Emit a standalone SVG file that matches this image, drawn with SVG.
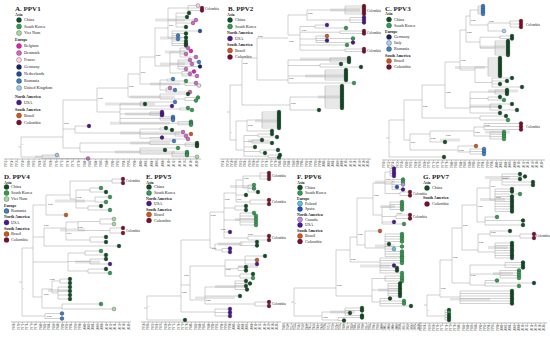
<svg xmlns="http://www.w3.org/2000/svg" width="550" height="337" viewBox="0 0 550 337">
<style>
text{font-family:"Liberation Serif","Times New Roman",serif;fill:#222}
.ti{font-size:7px;font-weight:bold}
.hd{font-size:4px;font-weight:bold}
.it{font-size:4.2px}
.lb{font-size:2.6px;fill:#333}
.tl{font-size:3.5px}
.ax{font-size:3.3px;fill:#444}
.br{fill:none;stroke:#a3a3a3;stroke-width:.5}
.hp{fill:#d9d9d9;opacity:.7}
.axl{stroke:#777;stroke-width:.5}
.tk{stroke:#777;stroke-width:1.6}
circle{stroke:#1e1e1e;stroke-width:.3}
.ch{fill:#0e4d24}.sk{fill:#2e9d4e}.vn{fill:#a6dba0}.be{fill:#e41fb2}.dk{fill:#d465c8}.fr{fill:#f9d3ef}.ge{fill:#152360}.nl{fill:#1f4d9e}.ro{fill:#3b7fc7}.uk{fill:#9ccbeb}.us{fill:#4b168f}.bz{fill:#d4541c}.co{fill:#7e0c2c}.itl{fill:#aacff0}.pl{fill:#55c3e1}.es{fill:#1d4fc6}.ca{fill:#b890e8}
</style>
<rect width="550" height="337" fill="#fff"/>

<!-- ================= PANEL A ================= -->
<g id="panel-A">
<g id="legend-A">
<text class="ti" x="15" y="10.5">A. PPV1</text>
<text class="hd" x="15" y="15.5">Asia</text>
<circle class="ch" cx="19" cy="20" r="2.5"/><text class="it" x="24" y="21.4">China</text>
<circle class="sk" cx="19" cy="26.5" r="2.5"/><text class="it" x="24" y="27.9">South Korea</text>
<circle class="vn" cx="19" cy="33" r="2.5"/><text class="it" x="24" y="34.4">Viet Nam</text>
<text class="hd" x="15" y="40.5">Europe</text>
<circle class="be" cx="19" cy="46" r="2.5"/><text class="it" x="24" y="47.4">Belgium</text>
<circle class="dk" cx="19" cy="53" r="2.5"/><text class="it" x="24" y="54.4">Denmark</text>
<circle class="fr" cx="19" cy="60" r="2.5"/><text class="it" x="24" y="61.4">France</text>
<circle class="ge" cx="19" cy="67" r="2.5"/><text class="it" x="24" y="68.4">Germany</text>
<circle class="nl" cx="19" cy="74" r="2.5"/><text class="it" x="24" y="75.4">Netherlands</text>
<circle class="ro" cx="19" cy="81" r="2.5"/><text class="it" x="24" y="82.4">Romania</text>
<circle class="uk" cx="19" cy="88" r="2.5"/><text class="it" x="24" y="89.4">United Kingdom</text>
<text class="hd" x="15" y="97.5">North America</text>
<circle class="us" cx="19" cy="102.5" r="2.5"/><text class="it" x="24" y="103.9">USA</text>
<text class="hd" x="15" y="110.5">South America</text>
<circle class="bz" cx="19" cy="115.5" r="2.5"/><text class="it" x="24" y="116.9">Brazil</text>
<circle class="co" cx="19" cy="122.5" r="2.5"/><text class="it" x="24" y="123.9">Colombia</text>
</g>
<g id="hpd-A" class="hp">
<rect x="155" y="18.5" width="30" height="3"/><rect x="160" y="36.5" width="22" height="3"/><rect x="165" y="50.5" width="20" height="3"/><rect x="160" y="62.5" width="25" height="3"/><rect x="150" y="82.5" width="30" height="3"/><rect x="130" y="95.5" width="45" height="3"/><rect x="105" y="102.5" width="50" height="3"/><rect x="125" y="112.5" width="40" height="3"/><rect x="110" y="121.7" width="60" height="3"/><rect x="120" y="131.5" width="60" height="3"/><rect x="130" y="141.5" width="40" height="3"/><rect x="115" y="150.5" width="60" height="3"/><rect x="35" y="155.5" width="25" height="2.5"/>
</g>
<g id="connectors-A" class="br"><path d="M18 147H21M21 137V157M21 157H42M42 155V158.5M42 155H57M42 158.5H88M21 137H63M63 100V148M63 100H97M63 129H75M63 148H80M97 88V112M97 88H128M97 112H120M128 74V97M128 74H140M128 97H160M140 57V84M140 57H155M140 84H160M155 28V66M155 28H168M155 66H170M168 8V38M168 8H188M168 20H176M168 38H172M188 5.5V10.5M188 5.5H198M188 8H202M188 10.5H202M176 13V27M176 13H189M176 17H187M176 20H196M176 23H193M176 27H186M172 31V45.5M172 31H200M172 33.5H186M172 35.5H178M172 37.5H186M172 39H178M172 41H186M172 43.5H186M172 45.5H186M170 52V73M170 52H180M170 64H178M170 73H182M180 48V57M180 48H188M180 51H191M180 54H186M180 57H196M178 60V69M178 60H190M178 62H199M178 64H192M178 66.5H200M178 69H186M182 71.5V76M182 71.5H194M182 74H190M182 76H197M160 80V90M160 80H167M160 84H185M160 90H166M167 79V81M167 79H173M167 81H186M185 83V85.5M185 83H196M185 85.5H199M166 88V92M166 88H170M166 90H175M166 92H190M160 94V99M160 94H188M160 99H185M185 97.5V100.5M185 97.5H198M185 100.5H196M120 104V123.2M120 104H140M120 109H180M120 114H150M120 118.4H160M120 123.2H178M140 102V106M140 102H175M140 104H145M140 106H172M180 108V110M180 108H188M180 110H192M150 112V115.2M150 112H162M150 113.6H162M150 115.2H162M160 116.8V120M160 116.8H173M160 118.4H173M160 120H173M178 121.6V124.8M178 121.6H191M178 123.2H191M178 124.8H191M75 126V133M75 126H89M75 133H140M140 129V138.2M140 129H160M140 134H175M140 138.2H150M160 128V130M160 128H166M160 130H172M175 132V136M175 132H183M175 134H191M175 136H186M150 137.5V139M150 137.5H162M150 139H188M80 143V152M80 143H150M80 152H140M150 141V144.6M150 141H174M150 144.6H185M185 143V146.2M185 143H197M185 144.6H197M185 146.2H197M140 148V154M140 148H178M140 150H165M140 154H172M172 152V156.8M172 152H187M172 153.6H187M172 155.2H187M172 156.8H197"/></g>
<g id="tips-A">
<circle class="fr" cx="198" cy="5.5" r="1.9"/><circle class="co" cx="202" cy="8" r="1.9"/><circle class="co" cx="202" cy="10.5" r="1.9"/>
<circle class="ch" cx="189" cy="13" r="1.9"/><circle class="ch" cx="187" cy="17" r="1.9"/><circle class="dk" cx="196" cy="20" r="1.9"/><circle class="dk" cx="193" cy="23" r="1.9"/><circle class="ch" cx="186" cy="27" r="1.9"/>
<circle class="nl" cx="200" cy="31" r="1.9"/><circle class="ch" cx="186" cy="33.5" r="1.9"/><circle class="ro" cx="178" cy="35.5" r="1.9"/><circle class="ch" cx="186" cy="37.5" r="1.9"/><circle class="ro" cx="178" cy="39" r="1.9"/><circle class="ch" cx="186" cy="41" r="1.9"/><circle class="ch" cx="186" cy="43.5" r="1.9"/><circle class="ch" cx="186" cy="45.5" r="1.9"/>
<circle class="dk" cx="188" cy="48" r="1.9"/><circle class="be" cx="191" cy="51" r="1.9"/><circle class="dk" cx="186" cy="54" r="1.9"/><circle class="dk" cx="196" cy="57" r="1.9"/><circle class="dk" cx="190" cy="60" r="1.9"/><circle class="ro" cx="199" cy="62" r="1.9"/><circle class="dk" cx="192" cy="64" r="1.9"/><circle class="ge" cx="200" cy="66.5" r="1.9"/><circle class="dk" cx="186" cy="69" r="1.9"/><circle class="be" cx="194" cy="71.5" r="1.9"/><circle class="dk" cx="190" cy="74" r="1.9"/><circle class="dk" cx="197" cy="76" r="1.9"/>
<circle class="ro" cx="173" cy="79" r="1.9"/><circle class="sk" cx="186" cy="81" r="1.9"/><circle class="dk" cx="196" cy="83" r="1.9"/><circle class="fr" cx="199" cy="85.5" r="1.9"/><circle class="dk" cx="170" cy="88" r="1.9"/><circle class="ro" cx="175" cy="90" r="1.9"/><circle class="dk" cx="190" cy="92" r="1.9"/>
<circle class="ch" cx="188" cy="94" r="1.9"/><circle class="sk" cx="198" cy="97.5" r="1.9"/><circle class="sk" cx="196" cy="100.5" r="1.9"/>
<circle class="ro" cx="175" cy="102" r="1.9"/><circle class="ch" cx="145" cy="104" r="1.9"/><circle class="us" cx="172" cy="106" r="1.9"/><circle class="sk" cx="188" cy="108" r="1.9"/><circle class="sk" cx="192" cy="110" r="1.9"/><circle class="us" cx="162" cy="112" r="1.9"/><circle class="us" cx="162" cy="113.6" r="1.9"/><circle class="us" cx="162" cy="115.2" r="1.9"/><circle class="ro" cx="173" cy="116.8" r="1.9"/><circle class="ro" cx="173" cy="118.4" r="1.9"/><circle class="ro" cx="173" cy="120" r="1.9"/><circle class="sk" cx="191" cy="121.6" r="1.9"/><circle class="sk" cx="191" cy="123.2" r="1.9"/><circle class="sk" cx="191" cy="124.8" r="1.9"/>
<circle class="us" cx="89" cy="126" r="1.9"/><circle class="ch" cx="166" cy="128" r="1.9"/><circle class="ch" cx="172" cy="130" r="1.9"/><circle class="dk" cx="183" cy="132" r="1.9"/><circle class="bz" cx="191" cy="134" r="1.9"/><circle class="dk" cx="186" cy="136" r="1.9"/><circle class="us" cx="162" cy="137.5" r="1.9"/><circle class="dk" cx="188" cy="139" r="1.9"/>
<circle class="ro" cx="174" cy="141" r="1.9"/><circle class="ch" cx="197" cy="143" r="1.9"/><circle class="ch" cx="197" cy="144.6" r="1.9"/><circle class="ch" cx="197" cy="146.2" r="1.9"/><circle class="sk" cx="178" cy="148" r="1.9"/><circle class="ch" cx="165" cy="150" r="1.9"/><circle class="sk" cx="187" cy="152" r="1.9"/><circle class="sk" cx="187" cy="153.6" r="1.9"/><circle class="sk" cx="187" cy="155.2" r="1.9"/><circle class="vn" cx="197" cy="156.8" r="1.9"/>
<circle class="uk" cx="57" cy="155" r="1.9"/><circle class="dk" cx="88" cy="158.5" r="1.9"/>
</g>
<g id="labels-A">
<text class="tl" x="205" y="9.5">Colombia</text>
<text class="lb" x="169" y="26">0.97</text><text class="lb" x="156" y="56">0.96</text><text class="lb" x="141" y="73">0.97</text><text class="lb" x="129" y="87">0.99</text><text class="lb" x="98" y="99">0.98</text><text class="lb" x="64" y="124">0.98</text><text class="lb" x="22" y="145">1</text>
</g>
<g id="axis-A">
<line class="axl" x1="4" y1="159" x2="201" y2="159"/>
<line class="tk" x1="5.825" y1="159.8" x2="197" y2="159.8" stroke-dasharray="0.35 5.25"/>
<g transform="translate(0,160.5) rotate(-90)"><text class="ax" text-anchor="end"><tspan x="0" y="7.1">1952</tspan><tspan x="0" y="12.7">1954</tspan><tspan x="0" y="18.3">1956</tspan><tspan x="0" y="23.9">1958</tspan><tspan x="0" y="29.5">1960</tspan><tspan x="0" y="35.1">1962</tspan><tspan x="0" y="40.7">1964</tspan><tspan x="0" y="46.3">1966</tspan><tspan x="0" y="51.9">1968</tspan><tspan x="0" y="57.5">1970</tspan><tspan x="0" y="63.1">1972</tspan><tspan x="0" y="68.7">1974</tspan><tspan x="0" y="74.3">1976</tspan><tspan x="0" y="79.9">1978</tspan><tspan x="0" y="85.5">1980</tspan><tspan x="0" y="91.1">1982</tspan><tspan x="0" y="96.7">1984</tspan><tspan x="0" y="102.3">1986</tspan><tspan x="0" y="107.9">1988</tspan><tspan x="0" y="113.5">1990</tspan><tspan x="0" y="119.1">1992</tspan><tspan x="0" y="124.7">1994</tspan><tspan x="0" y="130.3">1996</tspan><tspan x="0" y="135.9">1998</tspan><tspan x="0" y="141.5">2000</tspan><tspan x="0" y="147.1">2002</tspan><tspan x="0" y="152.7">2004</tspan><tspan x="0" y="158.3">2006</tspan><tspan x="0" y="163.9">2008</tspan><tspan x="0" y="169.5">2010</tspan><tspan x="0" y="175.1">2012</tspan><tspan x="0" y="180.7">2014</tspan><tspan x="0" y="186.3">2016</tspan><tspan x="0" y="191.9">2018</tspan><tspan x="0" y="197.5">2020</tspan></text></g>
</g>
</g>

<!-- ================= PANEL B ================= -->
<g id="panel-B">
<g id="legend-B">
<text class="ti" x="228" y="10.5">B. PPV2</text>
<text class="hd" x="227" y="15.5">Asia</text>
<circle class="ch" cx="230" cy="20" r="2.5"/><text class="it" x="235" y="21.4">China</text>
<circle class="sk" cx="230" cy="26.5" r="2.5"/><text class="it" x="235" y="27.9">South Korea</text>
<text class="hd" x="227" y="33.5">North America</text>
<circle class="us" cx="230" cy="38.5" r="2.5"/><text class="it" x="235" y="39.9">USA</text>
<text class="hd" x="227" y="45.5">South America</text>
<circle class="bz" cx="230" cy="50.5" r="2.5"/><text class="it" x="235" y="51.9">Brazil</text>
<circle class="co" cx="230" cy="57" r="2.5"/><text class="it" x="235" y="58.4">Colombia</text>
</g>
<g id="hpd-B" class="hp">
<rect x="330" y="8.5" width="30" height="3"/><rect x="300" y="57.5" width="50" height="3"/><rect x="305" y="74.5" width="40" height="3"/><rect x="318" y="95.5" width="25" height="3"/><rect x="255" y="119.5" width="25" height="3"/><rect x="248" y="139.5" width="22" height="3"/>
</g>
<g id="connectors-B" class="br"><path d="M227 112H230M230 85V140M230 85H242M230 140H236M242 58V105M242 58H257M242 105H290M257 38V80M257 38H288M257 80H288M288 15V35M288 15H307M288 35H300M307 10V20M307 10H345M307 20H350M345 6V14M345 6H364M345 8H364M345 10H364M345 12H364M345 14H364M350 17.5V22.5M350 17.5H364M350 20H364M350 22.5H364M300 26.5V50.2M300 26.5H315M300 32.2H340M300 39H316M300 45H347M300 50.2H345M315 25V28M315 25H327M315 28H346M340 31V33.5M340 31H364M340 33.5H364M316 36V42.5M316 36H327M316 38.5H353M316 40.5H327M316 42.5H353M345 49V51.5M345 49H364M345 51.5H364M288 60V83M288 60H330M288 65.5H320M288 76H325M288 83H354M330 58V62M330 58H349M330 60H349M330 62H349M320 64V67M320 64H341M320 67H361M325 70V80M325 70H346M325 72H346M325 74H346M325 76H346M325 78H346M325 80H346M290 97V110M290 97H325M290 110H319M325 86V108M325 86H342M325 88H342M325 90H342M325 92H342M325 94H342M325 96H342M325 98H342M325 100H342M325 102H342M325 104H342M325 106H342M325 108H342M236 121V150M236 121H247M236 150H244M247 120V131M247 120H262M247 131H272M262 112V128M262 112H279M262 114H279M262 116H279M262 118H279M262 120H279M262 122H279M262 124H279M262 126H279M262 128H279M244 135.5V156.2M244 135.5H258M244 141.5H252M244 147H255M244 151.5H260M244 156.2H268M258 134V137M258 134H272M258 137H277M252 140V143M252 140H262M252 143H272M260 150V153M260 150H278M260 153H265M268 155V157.5M268 155H280M268 157.5H279"/></g>
<g id="tips-B">
<circle class="co" cx="364" cy="6" r="1.9"/><circle class="co" cx="364" cy="8" r="1.9"/><circle class="co" cx="364" cy="10" r="1.9"/><circle class="co" cx="364" cy="12" r="1.9"/><circle class="co" cx="364" cy="14" r="1.9"/>
<circle class="us" cx="364" cy="17.5" r="1.9"/><circle class="us" cx="364" cy="20" r="1.9"/><circle class="us" cx="364" cy="22.5" r="1.9"/>
<circle class="us" cx="327" cy="25" r="1.9"/><circle class="sk" cx="346" cy="28" r="1.9"/><circle class="co" cx="364" cy="31" r="1.9"/><circle class="co" cx="364" cy="33.5" r="1.9"/><circle class="bz" cx="327" cy="36" r="1.9"/><circle class="sk" cx="353" cy="38.5" r="1.9"/><circle class="us" cx="327" cy="40.5" r="1.9"/><circle class="us" cx="353" cy="42.5" r="1.9"/><circle class="sk" cx="347" cy="45" r="1.9"/><circle class="co" cx="364" cy="49" r="1.9"/><circle class="co" cx="364" cy="51.5" r="1.9"/>
<circle class="ch" cx="349" cy="58" r="1.9"/><circle class="ch" cx="349" cy="60" r="1.9"/><circle class="ch" cx="349" cy="62" r="1.9"/><circle class="ch" cx="341" cy="64" r="1.9"/><circle class="ch" cx="361" cy="67" r="1.9"/><circle class="ch" cx="346" cy="70" r="1.9"/><circle class="ch" cx="346" cy="72" r="1.9"/><circle class="ch" cx="346" cy="74" r="1.9"/><circle class="ch" cx="346" cy="76" r="1.9"/><circle class="ch" cx="346" cy="78" r="1.9"/><circle class="ch" cx="346" cy="80" r="1.9"/><circle class="sk" cx="354" cy="83" r="1.9"/>
<circle class="ch" cx="342" cy="86" r="1.9"/><circle class="ch" cx="342" cy="88" r="1.9"/><circle class="ch" cx="342" cy="90" r="1.9"/><circle class="ch" cx="342" cy="92" r="1.9"/><circle class="ch" cx="342" cy="94" r="1.9"/><circle class="ch" cx="342" cy="96" r="1.9"/><circle class="ch" cx="342" cy="98" r="1.9"/><circle class="ch" cx="342" cy="100" r="1.9"/><circle class="ch" cx="342" cy="102" r="1.9"/><circle class="ch" cx="342" cy="104" r="1.9"/><circle class="ch" cx="342" cy="106" r="1.9"/><circle class="ch" cx="342" cy="108" r="1.9"/><circle class="ch" cx="319" cy="110" r="1.9"/>
<circle class="ch" cx="279" cy="112" r="1.9"/><circle class="ch" cx="279" cy="114" r="1.9"/><circle class="ch" cx="279" cy="116" r="1.9"/><circle class="ch" cx="279" cy="118" r="1.9"/><circle class="ch" cx="279" cy="120" r="1.9"/><circle class="ch" cx="279" cy="122" r="1.9"/><circle class="ch" cx="279" cy="124" r="1.9"/><circle class="ch" cx="279" cy="126" r="1.9"/><circle class="ch" cx="279" cy="128" r="1.9"/><circle class="ch" cx="272" cy="131" r="1.9"/>
<circle class="ch" cx="272" cy="134" r="1.9"/><circle class="ch" cx="277" cy="137" r="1.9"/><circle class="ch" cx="262" cy="140" r="1.9"/><circle class="ch" cx="272" cy="143" r="1.9"/><circle class="ch" cx="255" cy="147" r="1.9"/><circle class="ch" cx="278" cy="150" r="1.9"/><circle class="ch" cx="265" cy="153" r="1.9"/><circle class="ch" cx="280" cy="155" r="1.9"/><circle class="ch" cx="279" cy="157.5" r="1.9"/>
</g>
<g id="labels-B">
<text class="tl" x="367" y="11.5">Colombia</text><text class="tl" x="367" y="33.8">Colombia</text><text class="tl" x="367" y="51.8">Colombia</text>
<text class="lb" x="308" y="14">0.99</text><text class="lb" x="302" y="30.5">0.97</text><text class="lb" x="289" y="42">0.99</text><text class="lb" x="258" y="37">0.99</text><text class="lb" x="243" y="63.5">0.99</text><text class="lb" x="289" y="79">0.99</text><text class="lb" x="291" y="104">0.99</text><text class="lb" x="248" y="126">0.98</text><text class="lb" x="231" y="133">1</text>
</g>
<g id="axis-B">
<line class="axl" x1="220" y1="159" x2="371" y2="159"/>
<line class="tk" x1="222.825" y1="159.8" x2="370" y2="159.8" stroke-dasharray="0.35 4.05"/>
<g transform="translate(0,160.5) rotate(-90)"><text class="ax" text-anchor="end"><tspan x="0" y="224.1">1954</tspan><tspan x="0" y="228.5">1956</tspan><tspan x="0" y="232.9">1958</tspan><tspan x="0" y="237.3">1960</tspan><tspan x="0" y="241.7">1962</tspan><tspan x="0" y="246.1">1964</tspan><tspan x="0" y="250.5">1966</tspan><tspan x="0" y="254.9">1968</tspan><tspan x="0" y="259.3">1970</tspan><tspan x="0" y="263.7">1972</tspan><tspan x="0" y="268.1">1974</tspan><tspan x="0" y="272.5">1976</tspan><tspan x="0" y="276.9">1978</tspan><tspan x="0" y="281.3">1980</tspan><tspan x="0" y="285.7">1982</tspan><tspan x="0" y="290.1">1984</tspan><tspan x="0" y="294.5">1986</tspan><tspan x="0" y="298.9">1988</tspan><tspan x="0" y="303.3">1990</tspan><tspan x="0" y="307.7">1992</tspan><tspan x="0" y="312.1">1994</tspan><tspan x="0" y="316.5">1996</tspan><tspan x="0" y="320.9">1998</tspan><tspan x="0" y="325.3">2000</tspan><tspan x="0" y="329.7">2002</tspan><tspan x="0" y="334.1">2004</tspan><tspan x="0" y="338.5">2006</tspan><tspan x="0" y="342.9">2008</tspan><tspan x="0" y="347.3">2010</tspan><tspan x="0" y="351.7">2012</tspan><tspan x="0" y="356.1">2014</tspan><tspan x="0" y="360.5">2016</tspan><tspan x="0" y="364.9">2018</tspan><tspan x="0" y="369.3">2020</tspan></text></g>
</g>
</g>

<!-- ================= PANEL C ================= -->
<g id="panel-C">
<g id="legend-C">
<text class="ti" x="385" y="10.5">C. PPV3</text>
<text class="hd" x="385" y="15">Asia</text>
<circle class="ch" cx="389" cy="19.5" r="2.5"/><text class="it" x="394" y="20.9">China</text>
<circle class="sk" cx="389" cy="25.5" r="2.5"/><text class="it" x="394" y="26.9">South Korea</text>
<text class="hd" x="385" y="32.5">Europe</text>
<circle class="ge" cx="389" cy="37" r="2.5"/><text class="it" x="394" y="38.4">Germany</text>
<circle class="itl" cx="389" cy="43" r="2.5"/><text class="it" x="394" y="44.4">Italy</text>
<circle class="ro" cx="389" cy="49" r="2.5"/><text class="it" x="394" y="50.4">Romania</text>
<text class="hd" x="385" y="56.5">South America</text>
<circle class="bz" cx="389" cy="61" r="2.5"/><text class="it" x="394" y="62.4">Brazil</text>
<circle class="co" cx="389" cy="67" r="2.5"/><text class="it" x="394" y="68.4">Colombia</text>
</g>
<g id="hpd-C" class="hp">
<rect x="488" y="89.5" width="30" height="3"/><rect x="455" y="66" width="30" height="3"/><rect x="470" y="104.5" width="30" height="3"/><rect x="480" y="45.5" width="25" height="3"/><rect x="485" y="130.5" width="25" height="3"/><rect x="440" y="138.5" width="20" height="3"/>
</g>
<g id="connectors-C" class="br"><path d="M386 138H389M389 120V157M389 120H404M389 157H444M404 100V140M404 100H422M404 140H410M422 85V118M422 85H445M422 118H480M480 116V120M480 116H506M480 120H508M445 62V108M445 62H460M445 108H470M470 92V113M470 92H495M470 98.5H488M470 107H490M470 113H500M495 90V94M495 90H507M495 92H507M495 94H507M488 97V100M488 97H500M488 100H504M490 104V110M490 104H512M490 107H500M490 110H517M460 30V70M460 30H466M460 70H475M466 16V42M466 16H470M466 42H480M470 10V25M470 10H478M470 25H488M478 6V14M478 6H483M478 8H483M478 10H483M478 12H483M478 14H483M488 23V31M488 23H510M488 31H504M510 21V27M510 21H521M510 24H521M510 27H521M480 37.2V48M480 37.2H500M480 48H495M500 36V38.5M500 36H512M500 38.5H512M495 41V55M495 41H508M495 43H508M495 45H508M495 47H508M495 49H508M495 51H508M495 53H508M495 55H508M475 67V82.5M475 67H488M475 82.5H492M488 58V76M488 58H500M488 60H500M488 62H500M488 64H500M488 66H500M488 68H500M488 70H500M488 72H500M488 74H500M488 76H500M492 78V87M492 78H512M492 81H507M492 84H500M492 87H522M410 134V150M410 134H430M410 150H458M430 131V142M430 131H474M430 142H445M474 127V136M474 127H484M474 136H490M484 123.5V129.5M484 123.5H521M484 126.5H521M484 129.5H521M490 132V139M490 132H504M490 134.3H504M490 136.6H504M490 139H504M458 146V152M458 146H476M458 152H470M470 149V154M470 149H484M470 151.5H484M470 154H484"/></g>
<g id="tips-C">
<circle class="ro" cx="483" cy="6" r="1.9"/><circle class="ro" cx="483" cy="8" r="1.9"/><circle class="ro" cx="483" cy="10" r="1.9"/><circle class="ro" cx="483" cy="12" r="1.9"/><circle class="ro" cx="483" cy="14" r="1.9"/>
<circle class="co" cx="521" cy="21" r="1.9"/><circle class="co" cx="521" cy="24" r="1.9"/><circle class="co" cx="521" cy="27" r="1.9"/><circle class="itl" cx="504" cy="31" r="1.9"/>
<circle class="ch" cx="512" cy="36" r="1.9"/><circle class="ch" cx="512" cy="38.5" r="1.9"/><circle class="ch" cx="508" cy="41" r="1.9"/><circle class="ch" cx="508" cy="43" r="1.9"/><circle class="ch" cx="508" cy="45" r="1.9"/><circle class="ch" cx="508" cy="47" r="1.9"/><circle class="ch" cx="508" cy="49" r="1.9"/><circle class="ch" cx="508" cy="51" r="1.9"/><circle class="ch" cx="508" cy="53" r="1.9"/><circle class="ch" cx="508" cy="55" r="1.9"/>
<circle class="ch" cx="500" cy="58" r="1.9"/><circle class="ch" cx="500" cy="60" r="1.9"/><circle class="ch" cx="500" cy="62" r="1.9"/><circle class="ch" cx="500" cy="64" r="1.9"/><circle class="ch" cx="500" cy="66" r="1.9"/><circle class="ch" cx="500" cy="68" r="1.9"/><circle class="ch" cx="500" cy="70" r="1.9"/><circle class="ch" cx="500" cy="72" r="1.9"/><circle class="ch" cx="500" cy="74" r="1.9"/><circle class="ch" cx="500" cy="76" r="1.9"/><circle class="ch" cx="512" cy="78" r="1.9"/><circle class="ch" cx="507" cy="81" r="1.9"/><circle class="ch" cx="500" cy="84" r="1.9"/><circle class="ch" cx="522" cy="87" r="1.9"/>
<circle class="ch" cx="507" cy="90" r="1.9"/><circle class="ch" cx="507" cy="92" r="1.9"/><circle class="ch" cx="507" cy="94" r="1.9"/><circle class="ch" cx="500" cy="97" r="1.9"/><circle class="sk" cx="504" cy="100" r="1.9"/><circle class="ch" cx="512" cy="104" r="1.9"/><circle class="ch" cx="500" cy="107" r="1.9"/><circle class="ch" cx="517" cy="110" r="1.9"/><circle class="ch" cx="500" cy="113" r="1.9"/>
<circle class="ch" cx="506" cy="116" r="1.9"/><circle class="sk" cx="508" cy="120" r="1.9"/>
<circle class="co" cx="521" cy="123.5" r="1.9"/><circle class="co" cx="521" cy="126.5" r="1.9"/><circle class="co" cx="521" cy="129.5" r="1.9"/>
<circle class="sk" cx="504" cy="132" r="1.9"/><circle class="sk" cx="504" cy="134.3" r="1.9"/><circle class="sk" cx="504" cy="136.6" r="1.9"/><circle class="sk" cx="504" cy="139" r="1.9"/>
<circle class="ch" cx="445" cy="142" r="1.9"/><circle class="bz" cx="476" cy="146" r="1.9"/><circle class="ro" cx="484" cy="149" r="1.9"/><circle class="ro" cx="484" cy="151.5" r="1.9"/><circle class="ro" cx="484" cy="154" r="1.9"/><circle class="ch" cx="444" cy="157" r="1.9"/>
</g>
<g id="labels-C">
<text class="tl" x="526" y="25.5">Colombia</text><text class="tl" x="526" y="127.5">Colombia</text>
<text class="lb" x="471" y="21">0.99</text><text class="lb" x="489" y="22">0.99</text><text class="lb" x="467" y="33">0.99</text><text class="lb" x="461" y="61">0.99</text><text class="lb" x="446" y="93">0.99</text><text class="lb" x="423" y="107">0.99</text><text class="lb" x="485" y="125.5">0.99</text><text class="lb" x="475" y="133">0.99</text><text class="lb" x="446" y="136">0.99</text><text class="lb" x="431" y="139">0.99</text><text class="lb" x="411" y="143">0.97</text><text class="lb" x="459" y="151">0.99</text><text class="lb" x="390" y="143">1</text>
</g>
<g id="axis-C">
<line class="axl" x1="382" y1="160" x2="545" y2="160"/>
<line class="tk" x1="383.825" y1="160.8" x2="543" y2="160.8" stroke-dasharray="0.35 4.15"/>
<g transform="translate(0,161.5) rotate(-90)"><text class="ax" text-anchor="end"><tspan x="0" y="385.1">1950</tspan><tspan x="0" y="389.6">1952</tspan><tspan x="0" y="394.1">1954</tspan><tspan x="0" y="398.6">1956</tspan><tspan x="0" y="403.1">1958</tspan><tspan x="0" y="407.6">1960</tspan><tspan x="0" y="412.1">1962</tspan><tspan x="0" y="416.6">1964</tspan><tspan x="0" y="421.1">1966</tspan><tspan x="0" y="425.6">1968</tspan><tspan x="0" y="430.1">1970</tspan><tspan x="0" y="434.6">1972</tspan><tspan x="0" y="439.1">1974</tspan><tspan x="0" y="443.6">1976</tspan><tspan x="0" y="448.1">1978</tspan><tspan x="0" y="452.6">1980</tspan><tspan x="0" y="457.1">1982</tspan><tspan x="0" y="461.6">1984</tspan><tspan x="0" y="466.1">1986</tspan><tspan x="0" y="470.6">1988</tspan><tspan x="0" y="475.1">1990</tspan><tspan x="0" y="479.6">1992</tspan><tspan x="0" y="484.1">1994</tspan><tspan x="0" y="488.6">1996</tspan><tspan x="0" y="493.1">1998</tspan><tspan x="0" y="497.6">2000</tspan><tspan x="0" y="502.1">2002</tspan><tspan x="0" y="506.6">2004</tspan><tspan x="0" y="511.1">2006</tspan><tspan x="0" y="515.6">2008</tspan><tspan x="0" y="520.1">2010</tspan><tspan x="0" y="524.6">2012</tspan><tspan x="0" y="529.1">2014</tspan><tspan x="0" y="533.6">2016</tspan><tspan x="0" y="538.1">2018</tspan><tspan x="0" y="542.6">2020</tspan></text></g>
</g>
</g>

<!-- ================= PANEL D ================= -->
<g id="panel-D">
<g id="legend-D">
<text class="ti" x="4" y="179">D. PPV4</text>
<text class="hd" x="4" y="183.5">Asia</text>
<circle class="ch" cx="6.5" cy="187" r="2.5"/><text class="it" x="11" y="188.4">China</text>
<circle class="sk" cx="6.5" cy="193" r="2.5"/><text class="it" x="11" y="194.4">South Korea</text>
<circle class="vn" cx="6.5" cy="199" r="2.5"/><text class="it" x="11" y="200.4">Viet Nam</text>
<text class="hd" x="4" y="206.5">Europe</text>
<circle class="ro" cx="6.5" cy="211" r="2.5"/><text class="it" x="11" y="212.4">Romania</text>
<text class="hd" x="4" y="218">North America</text>
<circle class="us" cx="6.5" cy="222.5" r="2.5"/><text class="it" x="11" y="223.9">USA</text>
<text class="hd" x="4" y="229.5">South America</text>
<circle class="bz" cx="6.5" cy="234" r="2.5"/><text class="it" x="11" y="235.4">Brazil</text>
<circle class="co" cx="6.5" cy="240" r="2.5"/><text class="it" x="11" y="241.4">Colombia</text>
</g>
<g id="hpd-D" class="hp">
<rect x="55" y="199.5" width="30" height="3"/><rect x="60" y="228.5" width="25" height="3"/><rect x="48" y="289" width="22" height="3"/><rect x="75" y="260.5" width="25" height="3"/>
</g>
<g id="connectors-D" class="br"><path d="M19 282H22M22 248V316M22 248H33M22 316H45M45 313.5V318.5M45 313.5H62M45 318.5H62M33 205V297M33 205H46M33 237H44M33 262H68M33 297H42M46 195V215M46 195H70M46 215H66M70 181V199M70 181H112M70 199H76M112 179V183M112 179H123M112 183H123M76 190V208M76 190H90M76 201H95M76 208H88M90 188V192M90 188H101M90 192H106M95 197V202M95 197H110M95 202H106M88 206V210M88 206H101M88 210H110M44 228V246M44 228H66M44 246H119M66 222V240M66 222H78M66 240H90M78 221.5V230.5M78 221.5H100M78 230.5H110M100 219V224M100 219H114M100 224H114M110 228V233M110 228H123M110 233H123M90 237V242M90 237H106M90 242H106M68 253V271M68 253H85M68 261.5H90M68 271H88M85 251V255M85 251H101M85 255H106M90 259V264M90 259H106M90 264H110M88 269V273M88 269H106M88 273H110M42 289V308M42 289H52M42 308H62M52 281V293M52 281H60M52 293H58M60 279V283M60 279H70M60 283H70M58 287V299M58 287H70M58 291H70M58 295H70M58 299H70M62 304V309M62 304H101M62 309H114"/></g>
<g id="tips-D">
<circle class="co" cx="123" cy="179" r="1.9"/><circle class="co" cx="123" cy="183" r="1.9"/>
<circle class="sk" cx="101" cy="188" r="1.9"/><circle class="ch" cx="106" cy="192" r="1.9"/><circle class="sk" cx="110" cy="197" r="1.9"/><circle class="sk" cx="106" cy="202" r="1.9"/><circle class="ch" cx="101" cy="206" r="1.9"/><circle class="sk" cx="110" cy="210" r="1.9"/>
<circle class="bz" cx="66" cy="215" r="1.9"/>
<circle class="vn" cx="114" cy="219" r="1.9"/><circle class="vn" cx="114" cy="224" r="1.9"/><circle class="co" cx="123" cy="228" r="1.9"/><circle class="co" cx="123" cy="233" r="1.9"/><circle class="ch" cx="106" cy="237" r="1.9"/><circle class="ch" cx="106" cy="242" r="1.9"/><circle class="ch" cx="119" cy="246" r="1.9"/>
<circle class="sk" cx="101" cy="251" r="1.9"/><circle class="ch" cx="106" cy="255" r="1.9"/><circle class="ch" cx="106" cy="259" r="1.9"/><circle class="us" cx="110" cy="264" r="1.9"/><circle class="ch" cx="106" cy="269" r="1.9"/><circle class="sk" cx="110" cy="273" r="1.9"/>
<circle class="ch" cx="70" cy="279" r="1.9"/><circle class="ch" cx="70" cy="283" r="1.9"/><circle class="ch" cx="70" cy="287" r="1.9"/><circle class="ch" cx="70" cy="291" r="1.9"/><circle class="ch" cx="70" cy="295" r="1.9"/><circle class="ch" cx="70" cy="299" r="1.9"/>
<circle class="sk" cx="101" cy="304" r="1.9"/><circle class="vn" cx="114" cy="309" r="1.9"/>
<circle class="ro" cx="62" cy="313.5" r="1.9"/><circle class="ro" cx="62" cy="318.5" r="1.9"/>
</g>
<g id="labels-D">
<text class="tl" x="126" y="182.3">Colombia</text><text class="tl" x="126" y="231.8">Colombia</text>
<text class="lb" x="77" y="198">0.99</text><text class="lb" x="48" y="205">0.99</text><text class="lb" x="44" y="226">0.98</text><text class="lb" x="78" y="227.5">0.99</text><text class="lb" x="67" y="233.5">0.97</text><text class="lb" x="50" y="280">0.99</text><text class="lb" x="44" y="295">0.98</text><text class="lb" x="47" y="316.5">0.99</text><text class="lb" x="23" y="289">1</text>
</g>
<g id="axis-D">
<line class="axl" x1="11" y1="322" x2="131" y2="322"/>
<line class="tk" x1="13.825" y1="322.8" x2="130" y2="322.8" stroke-dasharray="0.35 4.05"/>
<g transform="translate(0,323.5) rotate(-90)"><text class="ax" text-anchor="end"><tspan x="0" y="15.1">1968</tspan><tspan x="0" y="19.5">1970</tspan><tspan x="0" y="23.9">1972</tspan><tspan x="0" y="28.3">1974</tspan><tspan x="0" y="32.7">1976</tspan><tspan x="0" y="37.1">1978</tspan><tspan x="0" y="41.5">1980</tspan><tspan x="0" y="45.9">1982</tspan><tspan x="0" y="50.3">1984</tspan><tspan x="0" y="54.7">1986</tspan><tspan x="0" y="59.1">1988</tspan><tspan x="0" y="63.5">1990</tspan><tspan x="0" y="67.9">1992</tspan><tspan x="0" y="72.3">1994</tspan><tspan x="0" y="76.7">1996</tspan><tspan x="0" y="81.1">1998</tspan><tspan x="0" y="85.5">2000</tspan><tspan x="0" y="89.9">2002</tspan><tspan x="0" y="94.3">2004</tspan><tspan x="0" y="98.7">2006</tspan><tspan x="0" y="103.1">2008</tspan><tspan x="0" y="107.5">2010</tspan><tspan x="0" y="111.9">2012</tspan><tspan x="0" y="116.3">2014</tspan><tspan x="0" y="120.7">2016</tspan><tspan x="0" y="125.1">2018</tspan><tspan x="0" y="129.5">2020</tspan></text></g>
</g>
</g>

<!-- ================= PANEL E ================= -->
<g id="panel-E">
<g id="legend-E">
<text class="ti" x="146" y="179">E. PPV5</text>
<text class="hd" x="146" y="183.5">Asia</text>
<circle class="ch" cx="149" cy="187" r="2.5"/><text class="it" x="154" y="188.4">China</text>
<circle class="sk" cx="149" cy="193" r="2.5"/><text class="it" x="154" y="194.4">South Korea</text>
<text class="hd" x="146" y="199.5">North America</text>
<circle class="us" cx="149" cy="203.5" r="2.5"/><text class="it" x="154" y="204.9">USA</text>
<text class="hd" x="146" y="210.5">South America</text>
<circle class="bz" cx="149" cy="214.5" r="2.5"/><text class="it" x="154" y="215.9">Brazil</text>
<circle class="co" cx="149" cy="220.5" r="2.5"/><text class="it" x="154" y="221.9">Colombia</text>
</g>
<g id="hpd-E" class="hp">
<rect x="230" y="185" width="25" height="3"/><rect x="235" y="218" width="20" height="3"/><rect x="238" y="265" width="20" height="3"/><rect x="215" y="285" width="30" height="3"/><rect x="195" y="296.5" width="40" height="2.5"/><rect x="218" y="242.5" width="25" height="3"/>
</g>
<g id="connectors-E" class="br"><path d="M144 308H147M147 296V320M147 296H181M147 320H185M181 240V312M181 240H210M181 285H190M181 312H215M215 309V316M215 309H230M215 312.5H230M215 316H230M210 212V248M210 212H224M210 248H215M215 244V250M215 244H240M215 250H222M240 242V245.5M240 242H257M240 245.5H257M222 248.5V252M222 248.5H230M222 252H230M224 193V238M224 193H236M224 208H235M224 220H240M224 232H230M224 238H248M236 180V202M236 180H243M236 195H246M236 202H250M243 176V188M243 176H260M243 188H248M260 173V179M260 173H269M260 176H269M260 179H269M248 185V192M248 185H254M248 188.5H254M248 192H258M250 200V204M250 200H269M250 204H269M235 206V210M235 206H246M235 210H246M240 213V225M240 213H254M240 216H256M240 219H256M240 222H256M240 225H256M248 236V240M248 236H269M248 240H269M190 266V300M190 266H225M190 300H205M225 260V276M225 260H245M225 268.7H238M225 276H240M245 256V264M245 256H265M245 260H257M245 264H257M238 267V270.5M238 267H246M238 270.5H246M240 274V278M240 274H253M240 278H253M205 287V304M205 287H235M205 296H240M205 304H255M235 281V289.5M235 281H246M235 283.5H250M235 286H246M235 289.5H247M255 302V306M255 302H269M255 306H269"/></g>
<g id="tips-E">
<circle class="co" cx="269" cy="173" r="1.9"/><circle class="co" cx="269" cy="176" r="1.9"/><circle class="co" cx="269" cy="179" r="1.9"/>
<circle class="sk" cx="254" cy="185" r="1.9"/><circle class="sk" cx="254" cy="188.5" r="1.9"/><circle class="ch" cx="258" cy="192" r="1.9"/><circle class="ch" cx="246" cy="195" r="1.9"/>
<circle class="co" cx="269" cy="200" r="1.9"/><circle class="co" cx="269" cy="204" r="1.9"/>
<circle class="ch" cx="246" cy="206" r="1.9"/><circle class="ch" cx="246" cy="210" r="1.9"/>
<circle class="sk" cx="254" cy="213" r="1.9"/><circle class="sk" cx="256" cy="216" r="1.9"/><circle class="sk" cx="256" cy="219" r="1.9"/><circle class="sk" cx="256" cy="222" r="1.9"/><circle class="sk" cx="256" cy="225" r="1.9"/>
<circle class="us" cx="230" cy="232" r="1.9"/><circle class="co" cx="269" cy="236" r="1.9"/><circle class="co" cx="269" cy="240" r="1.9"/>
<circle class="ch" cx="257" cy="242" r="1.9"/><circle class="ch" cx="257" cy="245.5" r="1.9"/><circle class="us" cx="230" cy="248.5" r="1.9"/><circle class="us" cx="230" cy="252" r="1.9"/>
<circle class="ch" cx="265" cy="256" r="1.9"/><circle class="bz" cx="257" cy="260" r="1.9"/><circle class="us" cx="257" cy="264" r="1.9"/><circle class="ch" cx="246" cy="267" r="1.9"/><circle class="ch" cx="246" cy="270.5" r="1.9"/><circle class="ch" cx="253" cy="274" r="1.9"/><circle class="sk" cx="253" cy="278" r="1.9"/>
<circle class="ch" cx="246" cy="281" r="1.9"/><circle class="ch" cx="250" cy="283.5" r="1.9"/><circle class="ch" cx="246" cy="286" r="1.9"/><circle class="ch" cx="247" cy="289.5" r="1.9"/><circle class="ch" cx="240" cy="296" r="1.9"/>
<circle class="co" cx="269" cy="302" r="1.9"/><circle class="co" cx="269" cy="306" r="1.9"/>
<circle class="us" cx="230" cy="309" r="1.9"/><circle class="us" cx="230" cy="312.5" r="1.9"/><circle class="us" cx="230" cy="316" r="1.9"/><circle class="ch" cx="185" cy="320" r="1.9"/>
</g>
<g id="labels-E">
<text class="tl" x="272" y="177.3">Colombia</text><text class="tl" x="272" y="203.3">Colombia</text><text class="tl" x="272" y="239.3">Colombia</text><text class="tl" x="272" y="305.3">Colombia</text>
<text class="lb" x="244" y="179">0.99</text><text class="lb" x="225" y="200">0.99</text><text class="lb" x="237" y="200">0.97</text><text class="lb" x="211" y="216">0.99</text><text class="lb" x="221" y="230">0.99</text><text class="lb" x="248" y="235">0.99</text><text class="lb" x="212" y="249">0.97</text><text class="lb" x="226" y="270">0.99</text><text class="lb" x="184" y="276">0.99</text><text class="lb" x="182" y="293">0.99</text><text class="lb" x="206" y="301">0.99</text><text class="lb" x="148" y="307">1</text>
</g>
<g id="axis-E">
<line class="axl" x1="141" y1="322" x2="281" y2="322"/>
<line class="tk" x1="143.825" y1="322.8" x2="279" y2="322.8" stroke-dasharray="0.35 3.95"/>
<g transform="translate(0,323.5) rotate(-90)"><text class="ax" text-anchor="end"><tspan x="0" y="145.1">1958</tspan><tspan x="0" y="149.4">1960</tspan><tspan x="0" y="153.7">1962</tspan><tspan x="0" y="158">1964</tspan><tspan x="0" y="162.3">1966</tspan><tspan x="0" y="166.6">1968</tspan><tspan x="0" y="170.9">1970</tspan><tspan x="0" y="175.2">1972</tspan><tspan x="0" y="179.5">1974</tspan><tspan x="0" y="183.8">1976</tspan><tspan x="0" y="188.1">1978</tspan><tspan x="0" y="192.4">1980</tspan><tspan x="0" y="196.7">1982</tspan><tspan x="0" y="201">1984</tspan><tspan x="0" y="205.3">1986</tspan><tspan x="0" y="209.6">1988</tspan><tspan x="0" y="213.9">1990</tspan><tspan x="0" y="218.2">1992</tspan><tspan x="0" y="222.5">1994</tspan><tspan x="0" y="226.8">1996</tspan><tspan x="0" y="231.1">1998</tspan><tspan x="0" y="235.4">2000</tspan><tspan x="0" y="239.7">2002</tspan><tspan x="0" y="244">2004</tspan><tspan x="0" y="248.3">2006</tspan><tspan x="0" y="252.6">2008</tspan><tspan x="0" y="256.9">2010</tspan><tspan x="0" y="261.2">2012</tspan><tspan x="0" y="265.5">2014</tspan><tspan x="0" y="269.8">2016</tspan><tspan x="0" y="274.1">2018</tspan><tspan x="0" y="278.4">2020</tspan></text></g>
</g>
</g>

<!-- ================= PANEL F ================= -->
<g id="panel-F">
<g id="legend-F">
<text class="ti" x="297" y="179">F. PPV6</text>
<text class="hd" x="297" y="183.5">Asia</text>
<circle class="ch" cx="300" cy="187.5" r="2.5"/><text class="it" x="305" y="188.9">China</text>
<circle class="sk" cx="300" cy="193" r="2.5"/><text class="it" x="305" y="194.4">South Korea</text>
<text class="hd" x="297" y="199.5">Europe</text>
<circle class="pl" cx="300" cy="203.5" r="2.5"/><text class="it" x="305" y="204.9">Poland</text>
<circle class="es" cx="300" cy="209" r="2.5"/><text class="it" x="305" y="210.4">Spain</text>
<text class="hd" x="297" y="215.5">North America</text>
<circle class="ca" cx="300" cy="219.5" r="2.5"/><text class="it" x="305" y="220.9">Canada</text>
<circle class="us" cx="300" cy="225" r="2.5"/><text class="it" x="305" y="226.4">USA</text>
<text class="hd" x="297" y="231.5">South America</text>
<circle class="bz" cx="300" cy="236" r="2.5"/><text class="it" x="305" y="237.4">Brazil</text>
<circle class="co" cx="300" cy="241.5" r="2.5"/><text class="it" x="305" y="242.9">Colombia</text>
</g>
<g id="hpd-F" class="hp">
<rect x="375" y="180.5" width="20" height="3"/><rect x="380" y="205" width="15" height="3"/><rect x="375" y="244.5" width="20" height="3"/><rect x="360" y="264.5" width="30" height="3"/><rect x="378" y="288.5" width="20" height="3"/><rect x="330" y="310.5" width="25" height="3"/>
</g>
<g id="connectors-F" class="br"><path d="M291 302H294M294 288V316M294 288H336M294 316H322M336 250V296M336 250H350M336 296H372M350 237V262M350 237H357M350 262H380M380 258V273M380 258H402M380 260.5H402M380 263H402M380 265.5H394M380 268H397M380 270.5H397M380 273H402M357 198V245M357 198H373M357 245H365M373 183V215M373 183H385M373 215H382M385 172V193.5M385 172H390M385 184H392M385 193.5H400M390 168.5V176M390 168.5H394M390 171H394M390 173.5H394M390 176H394M392 179.5V189.5M392 179.5H403M392 182H403M392 184.5H403M392 187H397M392 189.5H403M400 192V195.5M400 192H410M400 195.5H410M382 207V224M382 207H390M382 216.5H396M382 222H394M382 224H404M390 202V209.5M390 202H402M390 204.5H402M390 207H402M390 209.5H402M396 215V218.5M396 215H410M396 218.5H410M365 231V248M365 231H380M365 248H385M385 234V256.5M385 234H402M385 236.5H402M385 239H402M385 241.5H402M385 244H389M385 246.5H402M385 249H394M385 251.5H402M385 254H402M385 256.5H402M372 278.5V302M372 278.5H385M372 290H388M372 302H380M385 276V281M385 276H402M385 278.5H402M385 281H402M388 283.5V296M388 283.5H400M388 286H400M388 288.5H400M388 291H400M388 293.5H400M388 296H400M380 298.5V306M380 298.5H390M380 301H404M380 303.5H404M380 306H411M322 312V320M322 312H345M322 320H338M345 308V315.5M345 308H362M345 310.5H362M345 313H350M345 315.5H362M338 317.5V320.5M338 317.5H362M338 320.5H344"/></g>
<g id="tips-F">
<circle class="us" cx="394" cy="168.5" r="1.9"/><circle class="us" cx="394" cy="171" r="1.9"/><circle class="us" cx="394" cy="173.5" r="1.9"/><circle class="us" cx="394" cy="176" r="1.9"/>
<circle class="sk" cx="403" cy="179.5" r="1.9"/><circle class="sk" cx="403" cy="182" r="1.9"/><circle class="ca" cx="403" cy="184.5" r="1.9"/><circle class="es" cx="397" cy="187" r="1.9"/><circle class="us" cx="403" cy="189.5" r="1.9"/>
<circle class="co" cx="410" cy="192" r="1.9"/><circle class="co" cx="410" cy="195.5" r="1.9"/>
<circle class="sk" cx="402" cy="202" r="1.9"/><circle class="sk" cx="402" cy="204.5" r="1.9"/><circle class="sk" cx="402" cy="207" r="1.9"/><circle class="sk" cx="402" cy="209.5" r="1.9"/>
<circle class="co" cx="410" cy="215" r="1.9"/><circle class="co" cx="410" cy="218.5" r="1.9"/><circle class="us" cx="394" cy="222" r="1.9"/><circle class="sk" cx="404" cy="224" r="1.9"/>
<circle class="bz" cx="380" cy="231" r="1.9"/>
<circle class="sk" cx="402" cy="234" r="1.9"/><circle class="sk" cx="402" cy="236.5" r="1.9"/><circle class="sk" cx="402" cy="239" r="1.9"/><circle class="sk" cx="402" cy="241.5" r="1.9"/><circle class="ch" cx="389" cy="244" r="1.9"/><circle class="sk" cx="402" cy="246.5" r="1.9"/><circle class="pl" cx="394" cy="249" r="1.9"/><circle class="sk" cx="402" cy="251.5" r="1.9"/><circle class="sk" cx="402" cy="254" r="1.9"/><circle class="sk" cx="402" cy="256.5" r="1.9"/>
<circle class="sk" cx="402" cy="258" r="1.9"/><circle class="sk" cx="402" cy="260.5" r="1.9"/><circle class="sk" cx="402" cy="263" r="1.9"/><circle class="us" cx="394" cy="265.5" r="1.9"/><circle class="ch" cx="397" cy="268" r="1.9"/><circle class="ch" cx="397" cy="270.5" r="1.9"/><circle class="sk" cx="402" cy="273" r="1.9"/>
<circle class="sk" cx="402" cy="276" r="1.9"/><circle class="sk" cx="402" cy="278.5" r="1.9"/><circle class="sk" cx="402" cy="281" r="1.9"/>
<circle class="ch" cx="400" cy="283.5" r="1.9"/><circle class="ch" cx="400" cy="286" r="1.9"/><circle class="ch" cx="400" cy="288.5" r="1.9"/><circle class="ch" cx="400" cy="291" r="1.9"/><circle class="ch" cx="400" cy="293.5" r="1.9"/><circle class="ch" cx="400" cy="296" r="1.9"/>
<circle class="ch" cx="390" cy="298.5" r="1.9"/><circle class="sk" cx="404" cy="301" r="1.9"/><circle class="sk" cx="404" cy="303.5" r="1.9"/><circle class="ch" cx="411" cy="306" r="1.9"/>
<circle class="ch" cx="362" cy="308" r="1.9"/><circle class="ch" cx="362" cy="310.5" r="1.9"/><circle class="ch" cx="350" cy="313" r="1.9"/><circle class="ch" cx="362" cy="315.5" r="1.9"/><circle class="ch" cx="362" cy="317.5" r="1.9"/><circle class="ch" cx="344" cy="320.5" r="1.9"/>
</g>
<g id="labels-F">
<text class="tl" x="413" y="195">Colombia</text><text class="tl" x="413" y="218">Colombia</text>
<text class="lb" x="386" y="180">0.99</text><text class="lb" x="374" y="196">0.99</text><text class="lb" x="397" y="214">0.99</text><text class="lb" x="358" y="235">0.99</text><text class="lb" x="351" y="260">0.99</text><text class="lb" x="337" y="286">0.99</text><text class="lb" x="323" y="318">0.99</text><text class="lb" x="295" y="304">1</text>
</g>
<g id="axis-F">
<line class="axl" x1="282" y1="323" x2="421" y2="323"/>
<line class="tk" x1="283.825" y1="323.8" x2="420" y2="323.8" stroke-dasharray="0.35 3.4"/>
<g transform="translate(0,324.5) rotate(-90)"><text class="ax" text-anchor="end" style="font-size:3px"><tspan x="0" y="285.1">1948</tspan><tspan x="0" y="288.85">1950</tspan><tspan x="0" y="292.6">1952</tspan><tspan x="0" y="296.35">1954</tspan><tspan x="0" y="300.1">1956</tspan><tspan x="0" y="303.85">1958</tspan><tspan x="0" y="307.6">1960</tspan><tspan x="0" y="311.35">1962</tspan><tspan x="0" y="315.1">1964</tspan><tspan x="0" y="318.85">1966</tspan><tspan x="0" y="322.6">1968</tspan><tspan x="0" y="326.35">1970</tspan><tspan x="0" y="330.1">1972</tspan><tspan x="0" y="333.85">1974</tspan><tspan x="0" y="337.6">1976</tspan><tspan x="0" y="341.35">1978</tspan><tspan x="0" y="345.1">1980</tspan><tspan x="0" y="348.85">1982</tspan><tspan x="0" y="352.6">1984</tspan><tspan x="0" y="356.35">1986</tspan><tspan x="0" y="360.1">1988</tspan><tspan x="0" y="363.85">1990</tspan><tspan x="0" y="367.6">1992</tspan><tspan x="0" y="371.35">1994</tspan><tspan x="0" y="375.1">1996</tspan><tspan x="0" y="378.85">1998</tspan><tspan x="0" y="382.6">2000</tspan><tspan x="0" y="386.35">2002</tspan><tspan x="0" y="390.1">2004</tspan><tspan x="0" y="393.85">2006</tspan><tspan x="0" y="397.6">2008</tspan><tspan x="0" y="401.35">2010</tspan><tspan x="0" y="405.1">2012</tspan><tspan x="0" y="408.85">2014</tspan><tspan x="0" y="412.6">2016</tspan><tspan x="0" y="416.35">2018</tspan><tspan x="0" y="420.1">2020</tspan></text></g>
</g>
</g>

<!-- ================= PANEL G ================= -->
<g id="panel-G">
<g id="legend-G">
<text class="ti" x="423" y="179">G. PPV7</text>
<text class="hd" x="423" y="183.5">Asia</text>
<circle class="ch" cx="427" cy="188" r="2.5"/><text class="it" x="432" y="189.4">China</text>
<text class="hd" x="423" y="198.5">South America</text>
<circle class="co" cx="427" cy="204" r="2.5"/><text class="it" x="432" y="205.4">Colombia</text>
</g>
<g id="hpd-G" class="hp">
<rect x="485" y="176" width="25" height="3"/><rect x="480" y="198" width="25" height="3"/><rect x="488" y="246" width="20" height="3"/><rect x="493" y="272" width="20" height="3"/><rect x="450" y="298" width="40" height="2.5"/>
</g>
<g id="connectors-G" class="br"><path d="M424 305H427M427 295V316M427 295H440M427 316H445M445 310V320M445 310H449M445 312.5H449M445 315H449M445 317.5H449M445 320H449M440 260V297M440 260H452M440 297H460M460 291V303.5M460 291H512M460 293.5H512M460 296H512M460 298.5H512M460 301H512M460 303.5H512M452 228V283M452 228H462M452 283H470M470 265V285M470 265H505M470 274H500M470 285H485M505 262.5V267.5M505 262.5H523M505 265H523M505 267.5H523M500 270.5V278M500 270.5H519M500 273H519M500 275.5H519M500 278H519M485 280.5V286M485 280.5H497M485 283H534M485 286H519M462 205V250M462 205H477M462 250H478M477 188V222M477 188H490M477 222H485M490 180V200M490 180H502M490 200H495M502 174V185M502 174H520M502 176.5H525M502 179H520M502 182H533M502 185H533M495 189V211.5M495 189H512M495 191.5H512M495 194H520M495 196.5H512M495 199H512M495 201.5H512M495 204H512M495 206.5H512M495 209H512M495 211.5H512M485 217V225M485 217H497M485 220.5H523M485 225H523M478 234V252M478 234H490M478 252H495M490 231V236M490 231H510M490 236H520M520 234V238M520 234H534M520 238H534M495 243V258M495 243H512M495 245.5H512M495 248H512M495 250.5H512M495 253H512M495 255.5H512M495 258H512"/></g>
<g id="tips-G">
<circle class="ch" cx="520" cy="174" r="1.9"/><circle class="ch" cx="525" cy="176.5" r="1.9"/><circle class="ch" cx="520" cy="179" r="1.9"/><circle class="ch" cx="533" cy="182" r="1.9"/><circle class="ch" cx="533" cy="185" r="1.9"/>
<circle class="ch" cx="512" cy="189" r="1.9"/><circle class="ch" cx="512" cy="191.5" r="1.9"/><circle class="sk" cx="520" cy="194" r="1.9"/><circle class="ch" cx="512" cy="196.5" r="1.9"/><circle class="ch" cx="512" cy="199" r="1.9"/><circle class="ch" cx="512" cy="201.5" r="1.9"/><circle class="ch" cx="512" cy="204" r="1.9"/><circle class="ch" cx="512" cy="206.5" r="1.9"/><circle class="ch" cx="512" cy="209" r="1.9"/><circle class="ch" cx="512" cy="211.5" r="1.9"/>
<circle class="sk" cx="497" cy="217" r="1.9"/><circle class="ch" cx="523" cy="220.5" r="1.9"/><circle class="ch" cx="523" cy="225" r="1.9"/>
<circle class="ch" cx="510" cy="231" r="1.9"/><circle class="co" cx="534" cy="234" r="1.9"/><circle class="co" cx="534" cy="238" r="1.9"/>
<circle class="ch" cx="512" cy="243" r="1.9"/><circle class="ch" cx="512" cy="245.5" r="1.9"/><circle class="ch" cx="512" cy="248" r="1.9"/><circle class="ch" cx="512" cy="250.5" r="1.9"/><circle class="ch" cx="512" cy="253" r="1.9"/><circle class="ch" cx="512" cy="255.5" r="1.9"/><circle class="ch" cx="512" cy="258" r="1.9"/>
<circle class="ch" cx="523" cy="262.5" r="1.9"/><circle class="ch" cx="523" cy="265" r="1.9"/><circle class="ch" cx="523" cy="267.5" r="1.9"/>
<circle class="sk" cx="519" cy="270.5" r="1.9"/><circle class="sk" cx="519" cy="273" r="1.9"/><circle class="sk" cx="519" cy="275.5" r="1.9"/><circle class="sk" cx="519" cy="278" r="1.9"/>
<circle class="sk" cx="497" cy="280.5" r="1.9"/><circle class="ch" cx="534" cy="283" r="1.9"/><circle class="sk" cx="519" cy="286" r="1.9"/>
<circle class="ch" cx="512" cy="291" r="1.9"/><circle class="ch" cx="512" cy="293.5" r="1.9"/><circle class="ch" cx="512" cy="296" r="1.9"/><circle class="ch" cx="512" cy="298.5" r="1.9"/><circle class="ch" cx="512" cy="301" r="1.9"/><circle class="ch" cx="512" cy="303.5" r="1.9"/>
<circle class="ch" cx="449" cy="310" r="1.9"/><circle class="sk" cx="449" cy="312.5" r="1.9"/><circle class="ch" cx="449" cy="315" r="1.9"/><circle class="ch" cx="449" cy="317.5" r="1.9"/><circle class="ch" cx="449" cy="320" r="1.9"/>
</g>
<g id="labels-G">
<text class="tl" x="536" y="237.2">Colombia</text>
<text class="lb" x="503" y="179">0.99</text><text class="lb" x="491" y="187">0.97</text><text class="lb" x="496" y="198">0.99</text><text class="lb" x="478" y="207">0.99</text><text class="lb" x="463" y="226">0.99</text><text class="lb" x="491" y="233">0.99</text><text class="lb" x="479" y="243">0.99</text><text class="lb" x="453" y="258">0.99</text><text class="lb" x="471" y="276">0.99</text><text class="lb" x="441" y="289">0.99</text><text class="lb" x="428" y="311">1</text>
</g>
<g id="axis-G">
<line class="axl" x1="419" y1="323" x2="547" y2="323"/>
<line class="tk" x1="420.825" y1="323.8" x2="546" y2="323.8" stroke-dasharray="0.35 3.9"/>
<g transform="translate(0,324.5) rotate(-90)"><text class="ax" text-anchor="end"><tspan x="0" y="422.1">1962</tspan><tspan x="0" y="426.35">1964</tspan><tspan x="0" y="430.6">1966</tspan><tspan x="0" y="434.85">1968</tspan><tspan x="0" y="439.1">1970</tspan><tspan x="0" y="443.35">1972</tspan><tspan x="0" y="447.6">1974</tspan><tspan x="0" y="451.85">1976</tspan><tspan x="0" y="456.1">1978</tspan><tspan x="0" y="460.35">1980</tspan><tspan x="0" y="464.6">1982</tspan><tspan x="0" y="468.85">1984</tspan><tspan x="0" y="473.1">1986</tspan><tspan x="0" y="477.35">1988</tspan><tspan x="0" y="481.6">1990</tspan><tspan x="0" y="485.85">1992</tspan><tspan x="0" y="490.1">1994</tspan><tspan x="0" y="494.35">1996</tspan><tspan x="0" y="498.6">1998</tspan><tspan x="0" y="502.85">2000</tspan><tspan x="0" y="507.1">2002</tspan><tspan x="0" y="511.35">2004</tspan><tspan x="0" y="515.6">2006</tspan><tspan x="0" y="519.85">2008</tspan><tspan x="0" y="524.1">2010</tspan><tspan x="0" y="528.35">2012</tspan><tspan x="0" y="532.6">2014</tspan><tspan x="0" y="536.85">2016</tspan><tspan x="0" y="541.1">2018</tspan><tspan x="0" y="545.35">2020</tspan></text></g>
</g>
</g>
</svg>
